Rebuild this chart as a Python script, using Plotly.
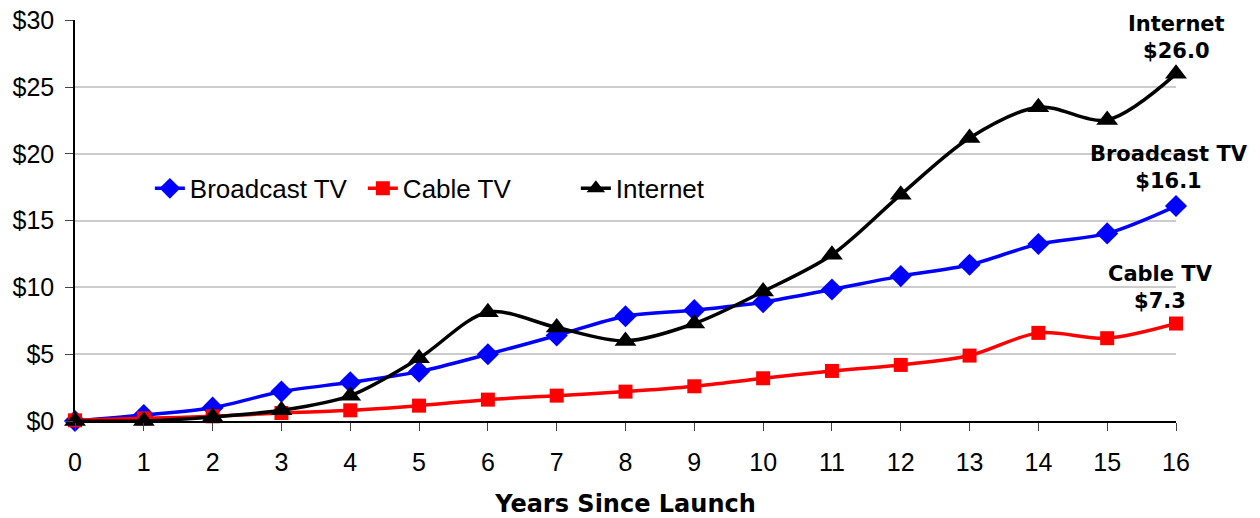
import plotly.graph_objects as go

years = list(range(17))
broadcast = [0.0, 0.45, 1.0, 2.2, 2.9, 3.7, 5.0, 6.4, 7.85, 8.3, 8.9, 9.85, 10.85, 11.7, 13.25, 14.05, 16.1]
cable = [0.05, 0.2, 0.35, 0.6, 0.8, 1.15, 1.6, 1.9, 2.2, 2.6, 3.2, 3.75, 4.2, 4.9, 6.6, 6.2, 7.3]
internet = [0.0, 0.0, 0.3, 0.8, 1.9, 4.7, 8.15, 7.0, 6.0, 7.3, 9.7, 12.45, 16.95, 21.2, 23.5, 22.55, 26.0]
y_ticks = [0, 5, 10, 15, 20, 25, 30]
y_labels = ["$0", "$5", "$10", "$15", "$20", "$25", "$30"]

fig = go.Figure()
fig.add_trace(go.Scatter(x=years, y=broadcast, name="Broadcast TV", mode="lines+markers",
                         line=dict(color="#0000FF", width=3.5, shape="spline", smoothing=0.9),
                         marker=dict(symbol="diamond", size=17, color="#0000FF")))
fig.add_trace(go.Scatter(x=years, y=cable, name="Cable TV", mode="lines+markers",
                         line=dict(color="#FF0000", width=3.5, shape="spline", smoothing=0.9),
                         marker=dict(symbol="square", size=14, color="#FF0000")))
fig.add_trace(go.Scatter(x=years, y=internet, name="Internet", mode="lines+markers",
                         line=dict(color="#000000", width=3.5, shape="spline", smoothing=0.9),
                         marker=dict(symbol="triangle-up", size=19, color="#000000")))

ann_font = dict(family="DejaVu Sans", size=21, color="black")
annotations = [
    dict(x=16, y=26.0, text="<b>Internet<br>$26.0</b>", yshift=9),
    dict(x=15.9, y=16.1, text="<b>Broadcast TV<br>$16.1</b>", yshift=11),
    dict(x=15.78, y=7.3, text="<b>Cable TV<br>$7.3</b>", yshift=9),
]
for a in annotations:
    fig.add_annotation(x=a["x"], y=a["y"], text=a["text"], showarrow=False,
                       xanchor="center", yanchor="bottom", yshift=a["yshift"],
                       font=ann_font, align="center")

fig.update_layout(
    width=1260, height=518,
    margin=dict(l=75, r=84, t=20, b=97, autoexpand=False),
    paper_bgcolor="white", plot_bgcolor="white",
    font=dict(family="Liberation Sans, Arial", size=25, color="black"),
    showlegend=True,
    legend=dict(orientation="h", x=0.068, y=0.58, xanchor="left", yanchor="middle",
                font=dict(family="Liberation Sans, Arial", size=26), bgcolor="rgba(0,0,0,0)",
                tracegroupgap=0, entrywidth=168, entrywidthmode="pixels"),
    xaxis=dict(range=[0, 16], tickmode="array", tickvals=years, showgrid=False,
               showline=True, linecolor="black", linewidth=1.5, ticks="outside",
               ticklen=8, tickcolor="#444", zeroline=False, automargin=False,
               ticklabelstandoff=10,
               title=dict(text="<b>Years Since Launch</b>",
                          font=dict(family="DejaVu Sans", size=24), standoff=24),
               tickfont=dict(size=25)),
    yaxis=dict(range=[0, 30.03], tickmode="array", tickvals=y_ticks, ticktext=y_labels,
               showgrid=True, gridcolor="#CCCCCC", gridwidth=1.5, automargin=False,
               ticklabelstandoff=6, ticklabeloverflow="allow",
               showline=True, linecolor="black", linewidth=1.5, ticks="outside",
               ticklen=8, tickcolor="#444", zeroline=False, tickfont=dict(size=25)),
)
for tr in fig.data:
    tr.cliponaxis = False

fig.write_html("out.html", config={"displayModeBar": False},
               post_script="document.body.style.margin='0';")
